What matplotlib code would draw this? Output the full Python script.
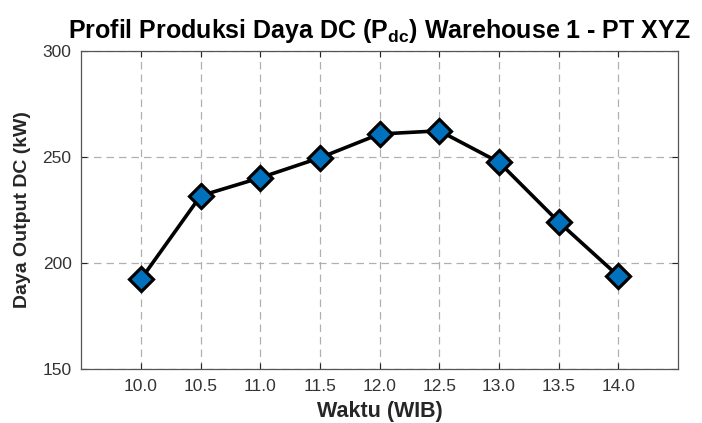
import matplotlib
matplotlib.use("Agg")
import matplotlib.pyplot as plt

# Data
waktu = [10.0, 10.5, 11.0, 11.5, 12.0, 12.5, 13.0, 13.5, 14.0]
daya_dc = [192.4, 231.7, 240.2, 249.6, 260.8, 262.3, 247.5, 219.4, 193.9]
x_ticks = [10.0, 10.5, 11.0, 11.5, 12.0, 12.5, 13.0, 13.5, 14.0]
y_ticks = [150, 200, 250, 300]

plt.rcParams['font.family'] = ['Liberation Sans', 'DejaVu Sans']
plt.rcParams['mathtext.fontset'] = 'custom'
plt.rcParams['mathtext.bf'] = 'Liberation Sans:bold'
plt.rcParams['mathtext.rm'] = 'Liberation Sans'

axis_col = '#262626'

fig = plt.figure(figsize=(7.02, 4.23), dpi=100)
ax = fig.add_axes([0.1158, 0.127, 0.85, 0.753])

ax.plot(waktu, daya_dc, color='black', linewidth=2.6, marker='D',
        markersize=12, markerfacecolor='#0072BD', markeredgecolor='black',
        markeredgewidth=2.3, zorder=3)

ax.set_xlim(9.5, 14.5)
ax.set_ylim(150, 300)
ax.set_xticks(x_ticks)
ax.set_xticklabels([f"{t:.1f}" for t in x_ticks])
ax.set_yticks(y_ticks)

ax.grid(True, linestyle=(0, (6, 4)), color='#b0b0b0', linewidth=0.9)
ax.tick_params(direction='in', top=True, right=True, length=4,
               colors=axis_col, labelsize=12.5, labelcolor='#333333', pad=7)
for sp in ax.spines.values():
    sp.set_color('#555555')
    sp.set_linewidth(0.9)

ax.set_xlabel("Waktu (WIB)", fontsize=15.5, fontweight='bold', color=axis_col, labelpad=5)
ax.set_ylabel("Daya Output DC (kW)", fontsize=14, fontweight='bold', color=axis_col, labelpad=8)
ax.set_title(r"Profil Produksi Daya DC ($\mathbf{P_{dc}}$) Warehouse 1 - PT XYZ",
             fontsize=18, fontweight='bold', color='black', pad=9)

fig.savefig("out.png", dpi=100)
